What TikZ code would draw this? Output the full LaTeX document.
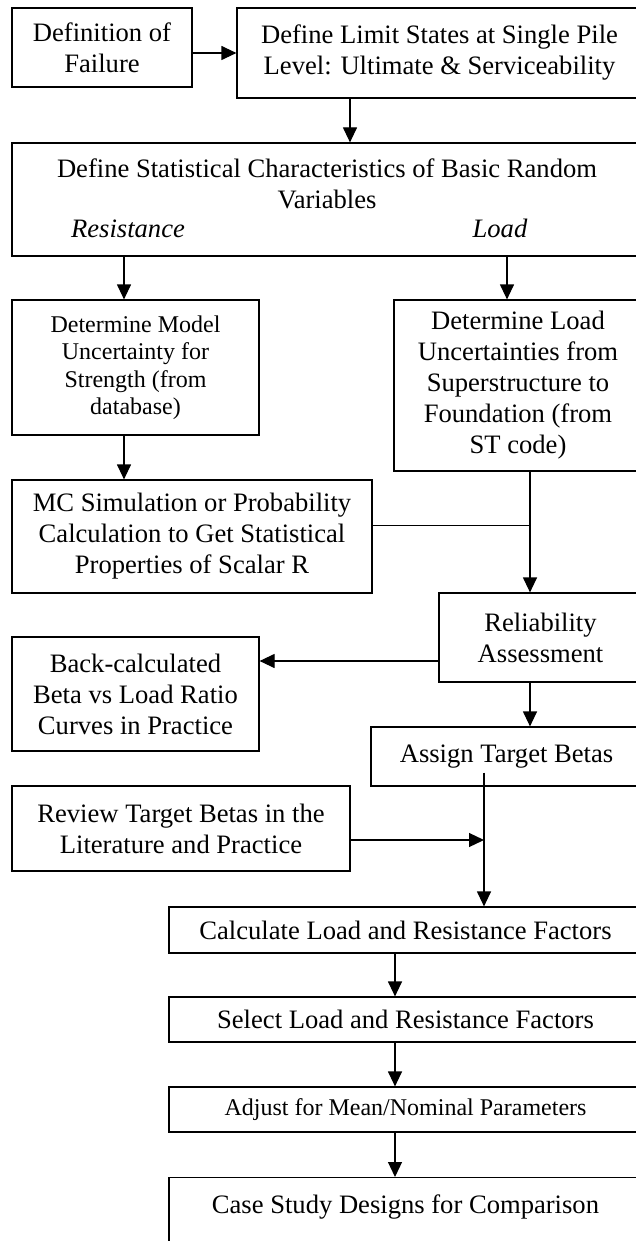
\documentclass[tikz,border=0pt]{standalone}
\usepackage{fontspec}
\setmainfont{Liberation Serif}
\usetikzlibrary{arrows.meta,calc}
\begin{document}
\begin{tikzpicture}[x=1pt,y=-1pt,
  box/.style={draw,line width=1.2pt,inner sep=0pt,align=center,font=\fontsize{26.6}{31}\selectfont},
  smallbox/.style={box,font=\fontsize{24}{27.5}\selectfont},
  lbl/.style={inner sep=0pt,anchor=base,font=\fontsize{26.6}{31}\selectfont\itshape},
  arr/.style={line width=1.2pt,-{Triangle[length=15pt,width=14pt]}},
  ln/.style={line width=1.2pt}]
\useasboundingbox[fill=white] (0,0) rectangle (636,1241);
% boxes
\node[box,minimum width=180,minimum height=79] (fail) at (102,47.5) {Definition of\\Failure};
\node[box,minimum width=405,minimum height=90] (limit) at (439.5,53) {Define Limit States at Single Pile\\Level: Ultimate \& Serviceability};
\node[box,minimum width=630,minimum height=113] (stat) at (327,199.5) {Define Statistical Characteristics of Basic Random\\Variables\\\rule[-1.5pt]{0pt}{2pt}};
\node[lbl] (res) at (128,238) {Resistance};
\node[lbl] (lod) at (500,238) {Load};
\node[smallbox,minimum width=247,minimum height=135] (model) at (135.5,367.5) {Determine Model\\Uncertainty for\\Strength (from\\database)};
\node[box,minimum width=248,minimum height=171] (load) at (518,385.5) {Determine Load\\Uncertainties from\\Superstructure to\\Foundation (from\\ST code)};
\node[box,minimum width=360,minimum height=113] (mc) at (192,536.5) {MC Simulation or Probability\\Calculation to Get Statistical\\Properties of Scalar R};
\node[box,minimum width=203,minimum height=89] (rel) at (540.5,637.5) {Reliability\\Assessment};
\node[box,minimum width=247,minimum height=114] (back) at (135.5,694) {Back-calculated\\Beta vs Load Ratio\\Curves in Practice};
\node[box,minimum width=271,minimum height=59] (assign) at (506.5,756.5) {Assign Target Betas};
\node[box,minimum width=338,minimum height=85] (review) at (181,828.5) {Review Target Betas in the\\Literature and Practice};
\node[box,minimum width=473,minimum height=46] (calc) at (405.5,930) {Calculate Load and Resistance Factors};
\node[box,minimum width=473,minimum height=45] (select) at (405.5,1019.5) {Select Load and Resistance Factors};
\node[smallbox,minimum width=473,minimum height=45] (adjust) at (405.5,1109.5) {Adjust for Mean/Nominal Parameters};
\node[box,minimum width=473,anchor=north,text height=36pt,text depth=100pt] (case) at (405.5,1177) {Case Study Designs for Comparison};
% connector points
\coordinate (p1) at ($(limit.south)+(-89.5,0)$);
\coordinate (p2) at ($(model.north)+(-11.5,0)$);
\coordinate (p3) at ($(load.north)+(-11,0)$);
\coordinate (p4) at ($(model.south)+(-11.5,0)$);
\coordinate (p5) at ($(load.south)+(12,0)$);
\coordinate (j1) at ($(load.south)+(12,54)$);
\coordinate (r1) at ($(rel.west)+(0,23.5)$);
\coordinate (p6) at ($(rel.south)+(-10.5,0)$);
\coordinate (a1) at ($(assign.south)+(-22.5,-14)$);
\coordinate (v1) at ($(review.east)+(0,11.5)$);
% connectors
\draw[arr] (limit.west -| fail.east) -- (limit.west);
\draw[arr] (p1) -- (p1 |- stat.north);
\draw[arr] (p2 |- stat.south) -- (p2);
\draw[arr] (p3 |- stat.south) -- (p3);
\draw[arr] (p4) -- (p4 |- mc.north);
\draw[arr] (p5) -- (p5 |- rel.north);
\draw[ln] (mc.east |- j1) -- (j1);
\draw[arr] (r1) -- (back.east |- r1);
\draw[arr] (p6) -- (p6 |- assign.north);
\draw[arr] (a1) -- (a1 |- calc.north);
\draw[arr] (v1) -- (a1 |- v1);
\draw[arr] ($(calc.south)+(-10.5,0)$) -- ($(select.north)+(-10.5,0)$);
\draw[arr] ($(select.south)+(-10.5,0)$) -- ($(adjust.north)+(-10.5,0)$);
\draw[arr] ($(adjust.south)+(-10.5,0)$) -- ($(case.north)+(-10.5,0)$);
\end{tikzpicture}
\end{document}
